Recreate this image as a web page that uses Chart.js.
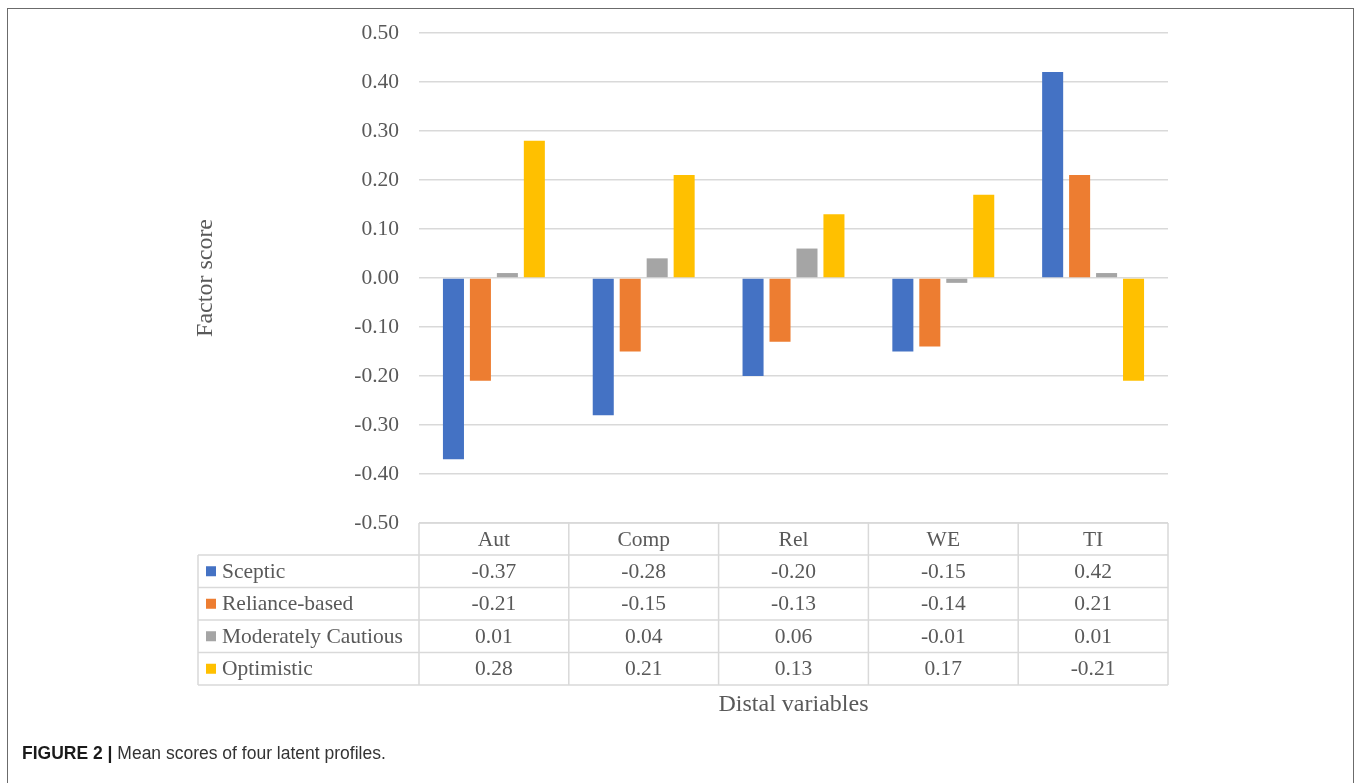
<!DOCTYPE html>
<html>
<head>
<meta charset="utf-8">
<title>Mean scores of four latent profiles</title>
<script src="https://cdn.jsdelivr.net/npm/chart.js@4.4.0/dist/chart.umd.min.js"></script>
<style>
    html, body { margin: 0; padding: 0; background: #fff; }
    #wrap { position: relative; width: 1360px; height: 783px; overflow: hidden; }
    #marco {
        position: absolute; left: 7px; top: 8px; width: 1347px; height: 800px;
        border: 1.5px solid #6b6b6b; box-sizing: border-box;
    }
    #grafico { position: absolute; left: 0; top: 0; }
    #leyenda-fig {
        position: absolute; left: 22px; top: 743px;
        font-family: "Liberation Sans", Arial, sans-serif; font-size: 17.5px; color: #333;
    }
    #leyenda-fig b { color: #1a1a1a; }
</style>
</head>
<body>
<div id="wrap">
    <div id="marco"></div>
    <canvas id="grafico" width="1360" height="783"></canvas>
    <div id="leyenda-fig"><b>FIGURE 2 |</b> Mean scores of four latent profiles.</div>
</div>
<script>
// Datos del gráfico
const categorias = ['Aut', 'Comp', 'Rel', 'WE', 'TI'];
const perfiles = ['Sceptic', 'Reliance-based', 'Moderately Cautious', 'Optimistic'];
const sceptic = [-0.37, -0.28, -0.20, -0.15, 0.42];
const reliance = [-0.21, -0.15, -0.13, -0.14, 0.21];
const cautious = [0.01, 0.04, 0.06, -0.01, 0.01];
const optimistic = [0.28, 0.21, 0.13, 0.17, -0.21];
const colores = ['#4472C4', '#ED7D31', '#A5A5A5', '#FFC000'];

const series = [sceptic, reliance, cautious, optimistic];
const serif = '"Liberation Serif", "Times New Roman", serif';
const gris = '#595959';
const lineaTabla = '#d9d9d9';

// Plugin que dibuja la tabla de datos debajo del gráfico
const tablaDatos = {
    id: 'tablaDatos',
    afterDraw(chart) {
        const ctx = chart.ctx;
        const area = chart.chartArea;
        const x = chart.scales.x;
        const izq = 198;
        const arriba = area.bottom;
        const altoCab = 32;
        const altoFila = 32.5;
        const abajo = arriba + altoCab + altoFila * perfiles.length;
        const anchoCol = (area.right - area.left) / categorias.length;

        ctx.save();
        ctx.strokeStyle = lineaTabla;
        ctx.lineWidth = 1.5;
        ctx.beginPath();
        // líneas horizontales
        ctx.moveTo(area.left, arriba);
        ctx.lineTo(area.right, arriba);
        for (let i = 0; i <= perfiles.length; i++) {
            const y = arriba + altoCab + i * altoFila;
            ctx.moveTo(izq, y);
            ctx.lineTo(area.right, y);
        }
        // líneas verticales
        ctx.moveTo(izq, arriba + altoCab);
        ctx.lineTo(izq, abajo);
        for (let j = 0; j <= categorias.length; j++) {
            const xx = area.left + j * anchoCol;
            ctx.moveTo(xx, arriba);
            ctx.lineTo(xx, abajo);
        }
        ctx.stroke();

        ctx.fillStyle = gris;
        ctx.font = '21.5px ' + serif;
        ctx.textBaseline = 'middle';
        ctx.textAlign = 'center';
        // encabezados
        categorias.forEach(function (c, j) {
            ctx.fillText(c, x.getPixelForValue(j), arriba + altoCab / 2 + 1);
        });
        // filas
        perfiles.forEach(function (p, i) {
            const yc = arriba + altoCab + i * altoFila + altoFila / 2 + 1;
            ctx.fillStyle = colores[i];
            ctx.fillRect(206, yc - 6, 10, 10);
            ctx.fillStyle = gris;
            ctx.textAlign = 'left';
            ctx.fillText(p, 222, yc);
            ctx.textAlign = 'center';
            series[i].forEach(function (v, j) {
                ctx.fillText(v.toFixed(2), x.getPixelForValue(j), yc);
            });
        });

        // título del eje X
        ctx.font = '24px ' + serif;
        ctx.fillText('Distal variables', (area.left + area.right) / 2, abajo + 20);
        ctx.restore();
    }
};

const ctx = document.getElementById('grafico').getContext('2d');
new Chart(ctx, {
    type: 'bar',
    data: {
        labels: categorias,
        datasets: perfiles.map(function (p, i) {
            return {
                label: p,
                data: series[i],
                backgroundColor: colores[i],
                categoryPercentage: 0.72,
                barPercentage: 0.78
            };
        })
    },
    options: {
        responsive: false,
        animation: false,
        layout: {
            padding: { left: 187, right: 192, top: 32, bottom: 260 }
        },
        scales: {
            x: { display: false },
            y: {
                min: -0.5,
                max: 0.5,
                afterFit: function (s) { s.width = 232; },
                ticks: {
                    stepSize: 0.1,
                    padding: 20,
                    color: gris,
                    font: { family: serif, size: 21.5 },
                    callback: function (v) { return Number(v).toFixed(2); }
                },
                grid: { color: lineaTabla, lineWidth: 1.5, drawTicks: false },
                border: { display: false },
                title: {
                    display: true,
                    text: 'Factor score',
                    color: gris,
                    font: { family: serif, size: 24 },
                    padding: { top: 4, bottom: 0 }
                }
            }
        },
        plugins: {
            legend: { display: false },
            tooltip: { enabled: false }
        }
    },
    plugins: [tablaDatos]
});
</script>
</body>
</html>
